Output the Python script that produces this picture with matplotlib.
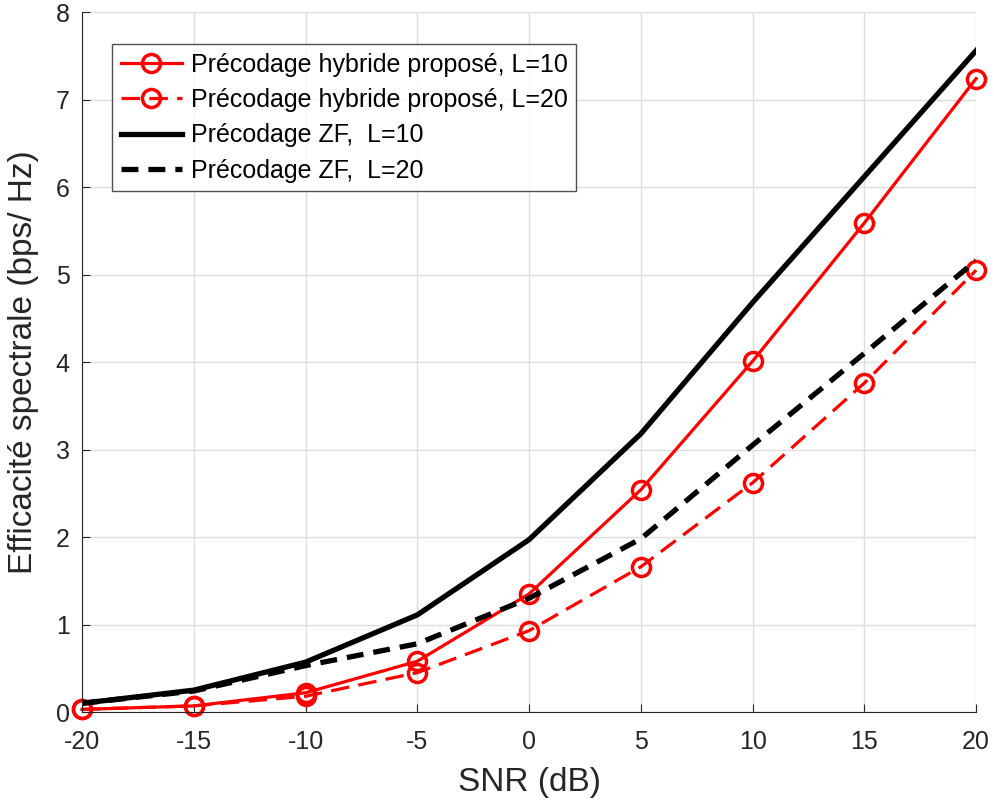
import numpy as np
import matplotlib
matplotlib.use("Agg")
import matplotlib.pyplot as plt

plt.rcParams['font.family'] = ['Liberation Sans', 'DejaVu Sans']
plt.rcParams['axes.unicode_minus'] = False

snr = [-20, -15, -10, -5, 0, 5, 10, 15, 20]
hyb_l10 = [0.03, 0.07, 0.22, 0.58, 1.35, 2.54, 4.01, 5.59, 7.24]
hyb_l20 = [0.03, 0.07, 0.18, 0.45, 0.93, 1.66, 2.62, 3.76, 5.05]
zf_l10 = [0.10, 0.25, 0.57, 1.11, 1.97, 3.18, 4.68, 6.12, 7.56]
zf_l20 = [0.10, 0.24, 0.53, 0.78, 1.30, 1.98, 3.05, 4.10, 5.16]

fig = plt.figure(figsize=(9.94, 8.07), dpi=100)
ax = fig.add_axes([0.0825, 0.1177, 0.8995, 0.8673])

# courbes rouges d'abord, les noires passent par-dessus (comme dans matlab)
ax.plot(snr, hyb_l10, '-o', color='red', lw=2.3, ms=13, mfc='none', mew=2.5,
        clip_on=False, label='Précodage hybride proposé, L=10')
ax.plot(snr, hyb_l20, '--o', color='red', lw=2.3, ms=13, mfc='none', mew=2.5,
        dashes=(5.8, 2.9), clip_on=False,
        label='Précodage hybride proposé, L=20')
ax.plot(snr, zf_l10, '-', color='black', lw=3.8, label='Précodage ZF,  L=10')
ax.plot(snr, zf_l20, '--', color='black', lw=3.8, dashes=(3.2, 1.9),
        label='Précodage ZF,  L=20')

ax.set_xlim(-20, 20)
ax.set_ylim(0, 8)
ax.set_xticks(snr)
ax.set_yticks(range(0, 9))
ax.grid(True, color='#dddddd', lw=1)
ax.set_axisbelow(True)
ax.tick_params(labelsize=18, direction='in', length=6, color='#262626',
               labelcolor='#262626', top=False, right=False)
ax.tick_params(axis='x', pad=13)
ax.tick_params(axis='y', pad=9)
for s in ax.spines.values():
    s.set_color('#262626')
ax.spines['top'].set_visible(False)
ax.spines['right'].set_visible(False)

ax.set_xlabel('SNR (dB)', fontsize=24, color='#262626', labelpad=9)
ax.set_ylabel('Efficacité spectrale (bps/ Hz)', fontsize=24, color='#262626',
              labelpad=12)

leg = ax.legend(loc='upper left', bbox_to_anchor=(0.0195, 0.972), fontsize=18,
                frameon=True, fancybox=False, handlelength=2.45,
                borderpad=0.35, labelspacing=0.45, handletextpad=0.35)
leg.get_frame().set_edgecolor('#262626')
leg.get_frame().set_linewidth(1)
leg.set_zorder(10)

fig.savefig('out.png', dpi=100)
